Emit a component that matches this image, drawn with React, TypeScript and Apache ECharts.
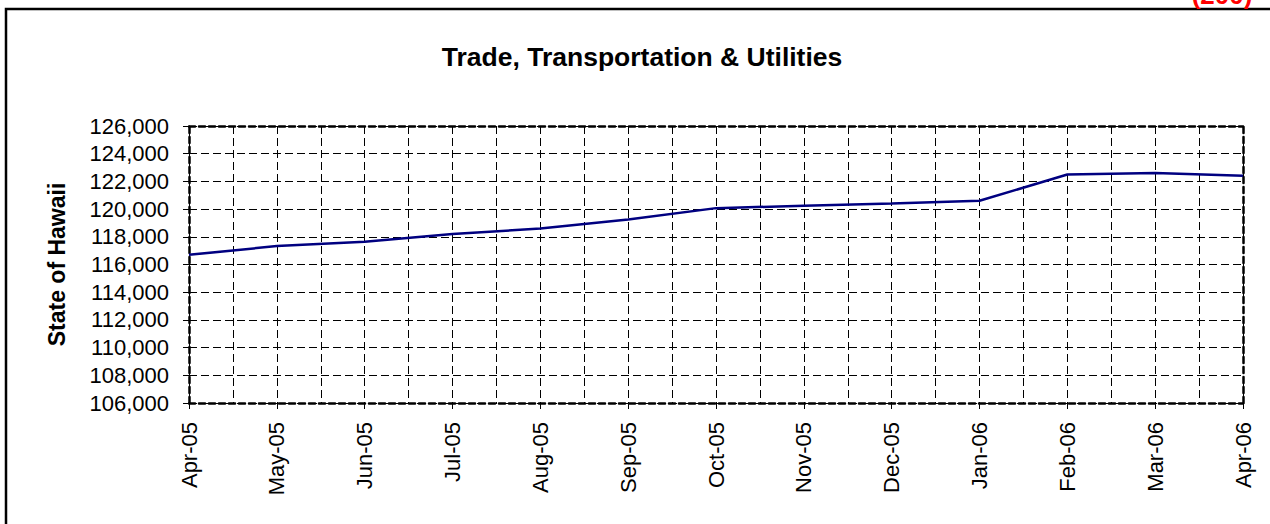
import React, { useEffect, useRef } from "react";
import * as echarts from "echarts";

const months = [
  "Apr-05", "May-05", "Jun-05", "Jul-05", "Aug-05", "Sep-05", "Oct-05",
  "Nov-05", "Dec-05", "Jan-06", "Feb-06", "Mar-06", "Apr-06",
];
const employment = [
  116700, 117330, 117650, 118200, 118600, 119250, 120070,
  120240, 120410, 120600, 122500, 122610, 122400,
];
const yMin = 106000;
const yMax = 126000;
const yStep = 2000;
const chartTitle = "Trade, Transportation & Utilities";
const yName = "State of Hawaii";
const cornerNote = "(200)";

const FONT = "'Liberation Sans', Arial, sans-serif";

export default function App() {
  const ref = useRef<HTMLDivElement>(null);
  useEffect(() => {
    if (!ref.current) return;
    const chart = echarts.init(ref.current, null, { renderer: "svg" });
    const thickDash = { color: "#000", width: 2.5, type: [6, 4] as any };
    const thinDash = { color: "#000", width: 1, type: [8, 4] as any };
    chart.setOption({
      animation: false,
      backgroundColor: "#fff",
      textStyle: { fontFamily: FONT },
      title: {
        text: chartTitle,
        left: 637,
        textAlign: "center",
        top: 38,
        textStyle: { fontFamily: FONT, fontSize: 26.5, fontWeight: "bold", color: "#000" },
      },
      graphic: [
        {
          type: "polyline",
          shape: { points: [[6, 530], [6, 9], [1275, 9]] },
          style: { stroke: "#000", lineWidth: 2.5, fill: "none" },
          silent: true,
        },
        {
          type: "text",
          x: 1222,
          y: 8,
          style: {
            text: cornerNote,
            fill: "#ff0000",
            font: `bold 26px ${FONT}`,
            align: "center",
            verticalAlign: "bottom",
          },
        },
      ],
      grid: { left: 189, right: 27, top: 126, bottom: 121, containLabel: false },
      xAxis: [
        {
          type: "category",
          data: months,
          boundaryGap: false,
          position: "bottom",
          axisLine: { show: true, lineStyle: thickDash },
          axisTick: { show: true, length: 6, inside: false, lineStyle: { color: "#000", width: 1 } },
          axisLabel: {
            rotate: 90,
            margin: 19,
            interval: 0,
            fontFamily: FONT,
            fontSize: 22,
            color: "#000",
          },
          splitLine: { show: true, lineStyle: thinDash },
        },
        {
          type: "value",
          min: 0,
          max: 12,
          interval: 0.5,
          position: "top",
          axisLine: { show: true, lineStyle: thickDash },
          axisTick: { show: false },
          axisLabel: { show: false },
          splitLine: { show: true, lineStyle: thinDash },
        },
      ],
      yAxis: [
        {
          type: "value",
          min: yMin,
          max: yMax,
          interval: yStep,
          position: "left",
          name: yName,
          nameLocation: "middle",
          nameGap: 121,
          nameTextStyle: { fontFamily: FONT, fontSize: 23, fontWeight: "bold", color: "#000" },
          axisLine: { show: true, lineStyle: { color: "#000", width: 1 } },
          axisTick: { show: true, length: 6, lineStyle: { color: "#000", width: 1 } },
          axisLabel: {
            margin: 20,
            fontFamily: FONT,
            fontSize: 22,
            color: "#000",
            formatter: (v: number) => v.toLocaleString("en-US"),
          },
          splitLine: { show: true, lineStyle: thinDash },
        },
        {
          type: "value",
          min: yMin,
          max: yMax,
          interval: yStep,
          position: "right",
          axisLine: { show: true, lineStyle: thickDash },
          axisTick: { show: false },
          axisLabel: { show: false },
          splitLine: { show: false },
        },
        {
          type: "value",
          min: yMin,
          max: yMax,
          interval: yStep,
          position: "left",
          offset: 0,
          axisLine: { show: true, lineStyle: thickDash },
          axisTick: { show: false },
          axisLabel: { show: false },
          splitLine: { show: false },
        },
      ],
      series: [
        {
          type: "line",
          xAxisIndex: 0,
          yAxisIndex: 0,
          data: employment,
          showSymbol: false,
          symbol: "none",
          lineStyle: { color: "#000080", width: 2.5 },
          itemStyle: { color: "#000080" },
          z: 5,
        },
      ],
    });
    return () => chart.dispose();
  }, []);
  return (
    <div
      ref={ref}
      style={{ position: "absolute", left: 0, top: 0, width: 1270, height: 524 }}
    />
  );
}
